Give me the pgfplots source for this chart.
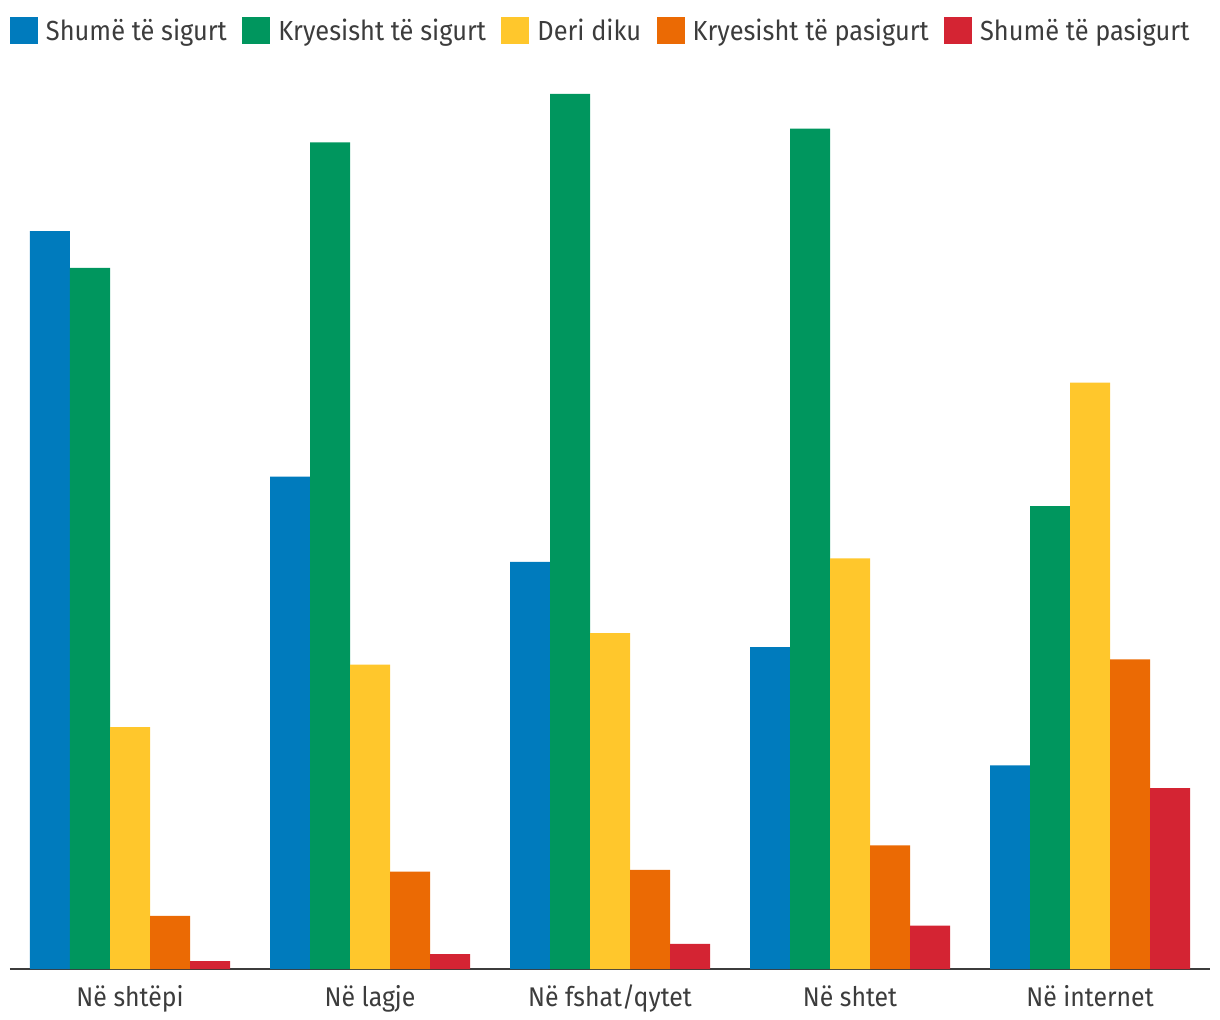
\documentclass[border=0pt]{standalone}
\usepackage{fontspec}
\setmainfont[FakeStretch=0.92]{Fira Sans}
\usepackage{pgfplots}
\pgfplotsset{compat=1.18}
\definecolor{cblue}{RGB}{0,123,189}
\definecolor{cgreen}{RGB}{0,150,94}
\definecolor{cyellow}{RGB}{255,199,44}
\definecolor{corange}{RGB}{235,106,4}
\definecolor{cred}{RGB}{212,36,51}
\definecolor{ctext}{RGB}{60,60,60}
\begin{document}
\begin{tikzpicture}
\useasboundingbox (0,0) rectangle (610pt,-510pt);
\clip (0,0) rectangle (610pt,-510pt);
\begin{axis}[
  at={(5pt,-484.5pt)}, anchor=south west,
  x=120pt, y=8.7pt,
  xmin=-0.5, xmax=4.5, ymin=0, ymax=51,
  axis x line*=bottom, axis y line=none,
  x axis line style={draw=ctext, line width=1pt, -},
  ybar=0pt, bar width=20pt,
  xtick={0,1,2,3,4},
  xticklabels={Në shtëpi, Në lagje, Në fshat/qytet, Në shtet, Në internet},
  major tick length=0pt,
  xticklabel style={font=\fontsize{13.5}{16}\selectfont, text=ctext, anchor=base, yshift=-18.75pt},
  legend columns=5,
  legend style={draw=none, fill=none, inner sep=0pt, outer sep=0pt,
    at={(0,1)}, anchor=south west, yshift=18.6pt,
    font=\fontsize{13.8}{16}\selectfont, text=ctext,
    nodes={inner sep=0pt, outer sep=0pt},
    /tikz/every odd column/.append style={column sep=4pt},
    /tikz/every even column/.append style={column sep=7.7pt}},
  legend image code/.code={\fill[#1, draw=none] (0pt,-6.5pt) rectangle (14pt,7pt);},
  every axis plot/.append style={draw=none},
]
\addplot[fill=cblue] coordinates {(0,42.4) (1,28.3) (2,23.4) (3,18.5) (4,11.7)};
\addplot[fill=cgreen] coordinates {(0,40.3) (1,47.5) (2,50.3) (3,48.3) (4,26.6)};
\addplot[fill=cyellow] coordinates {(0,13.9) (1,17.5) (2,19.3) (3,23.6) (4,33.7)};
\addplot[fill=corange] coordinates {(0,3.05) (1,5.6) (2,5.7) (3,7.1) (4,17.8)};
\addplot[fill=cred] coordinates {(0,0.46) (1,0.86) (2,1.44) (3,2.5) (4,10.4)};
\legend{Shumë të sigurt, Kryesisht të sigurt, Deri diku, Kryesisht të pasigurt, Shumë të pasigurt}
\end{axis}
\end{tikzpicture}
\end{document}
